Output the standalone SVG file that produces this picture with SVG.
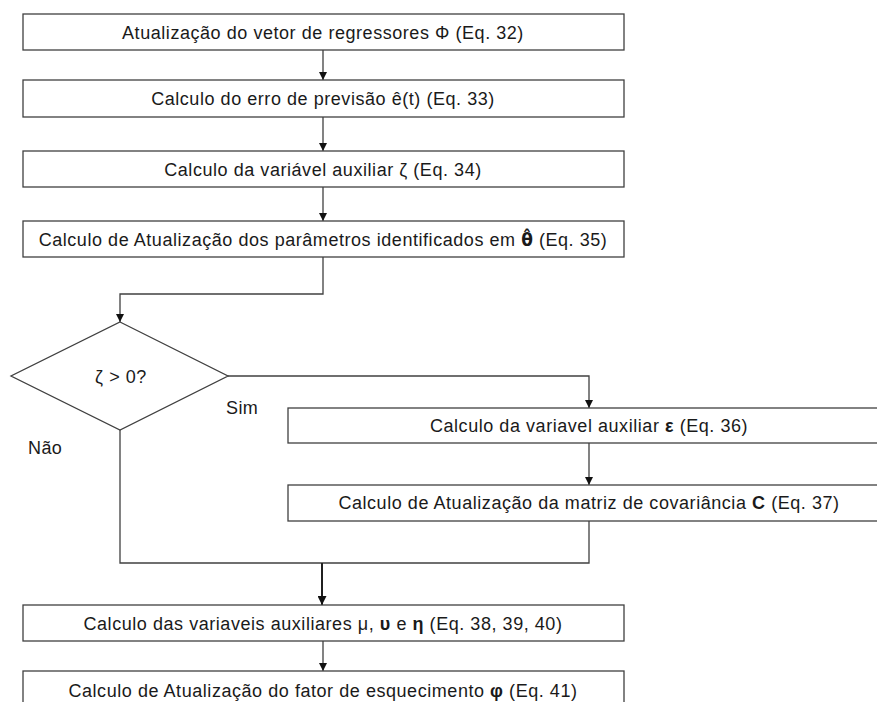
<svg xmlns="http://www.w3.org/2000/svg" width="877" height="702" viewBox="0 0 877 702">
  <style>
    .box { fill: #ffffff; stroke: #404040; stroke-width: 1.3; }
    .lbl { font-family: "Liberation Sans", Arial, sans-serif; font-size: 18px; letter-spacing: 0.55px; fill: #1a1a1a; text-anchor: middle; }
    .side { font-family: "Liberation Sans", Arial, sans-serif; font-size: 18px; letter-spacing: 0.4px; fill: #1a1a1a; }
    .b { font-weight: bold; }
    .hat { font-family: "DejaVu Sans", sans-serif; font-weight: bold; font-size: 17px; }
    .wire { fill: none; stroke: #404040; stroke-width: 1.3; }
    .wire2 { fill: none; stroke: #202020; stroke-width: 2; }
  </style>
  <defs>
    <marker id="arrow" viewBox="0 0 10 10" refX="10" refY="5" markerWidth="8" markerHeight="8" markerUnits="userSpaceOnUse" orient="auto">
      <path d="M0,0 L10,5 L0,10 Z" fill="#111111"/>
    </marker>
    <marker id="arrowBig" viewBox="0 0 10 10" refX="10" refY="5" markerWidth="9" markerHeight="9" markerUnits="userSpaceOnUse" orient="auto">
      <path d="M0,0 L10,5 L0,10 Z" fill="#111111"/>
    </marker>
  </defs>

  <rect width="877" height="702" fill="#ffffff"/>

  <g id="connectors">
    <line class="wire" x1="323" y1="50" x2="323" y2="80" marker-end="url(#arrow)"/>
    <line class="wire" x1="323" y1="117" x2="323" y2="151" marker-end="url(#arrow)"/>
    <line class="wire" x1="323" y1="187" x2="323" y2="221" marker-end="url(#arrow)"/>
    <polyline class="wire" points="323,257 323,294 120,294 120,322" marker-end="url(#arrow)"/>
    <polyline class="wire" points="228,376 589,376 589,408" marker-end="url(#arrow)"/>
    <line class="wire" x1="589" y1="443" x2="589" y2="485" marker-end="url(#arrow)"/>
    <polyline class="wire" points="120,430 120,563 589,563 589,521"/>
    <line class="wire2" x1="322" y1="563" x2="322" y2="605" marker-end="url(#arrowBig)"/>
    <line class="wire" x1="323" y1="641" x2="323" y2="671" marker-end="url(#arrow)"/>
  </g>

  <g id="n1">
    <rect class="box" x="23" y="14" width="601" height="36"/>
    <text class="lbl" x="323" y="39">Atualização do vetor de regressores Φ (Eq. 32)</text>
  </g>
  <g id="n2">
    <rect class="box" x="23" y="80" width="601" height="37"/>
    <text class="lbl" x="323" y="105">Calculo do erro de previsão ê(t) (Eq. 33)</text>
  </g>
  <g id="n3">
    <rect class="box" x="23" y="151" width="601" height="36"/>
    <text class="lbl" x="323" y="176">Calculo da variável auxiliar ζ (Eq. 34)</text>
  </g>
  <g id="n4">
    <rect class="box" x="23" y="221" width="601" height="36"/>
    <text class="lbl" x="323" y="246">Calculo de Atualização dos parâmetros identificados em <tspan class="hat">θ̂</tspan> (Eq. 35)</text>
  </g>
  <g id="decision">
    <polygon class="box" points="120,322 228,376 120,430 11,376"/>
    <text class="lbl" x="121" y="383">ζ &gt; 0?</text>
  </g>
  <g id="labels">
    <text class="side" x="226" y="414">Sim</text>
    <text class="side" x="28" y="454">Não</text>
  </g>
  <g id="n5">
    <rect class="box" x="288" y="408" width="600" height="35"/>
    <text class="lbl" x="589" y="432">Calculo da variavel auxiliar <tspan class="b">ε</tspan> (Eq. 36)</text>
  </g>
  <g id="n6">
    <rect class="box" x="288" y="485" width="600" height="36"/>
    <text class="lbl" x="589" y="509">Calculo de Atualização da matriz de covariância <tspan class="b">C</tspan> (Eq. 37)</text>
  </g>
  <g id="n7">
    <rect class="box" x="23" y="605" width="601" height="36"/>
    <text class="lbl" x="323" y="630">Calculo das variaveis auxiliares μ, <tspan class="b">υ</tspan> e <tspan class="b">η</tspan> (Eq. 38, 39, 40)</text>
  </g>
  <g id="n8">
    <rect class="box" x="23" y="671" width="601" height="40"/>
    <text class="lbl" x="323" y="697">Calculo de Atualização do fator de esquecimento <tspan class="b">φ</tspan> (Eq. 41)</text>
  </g>
</svg>
